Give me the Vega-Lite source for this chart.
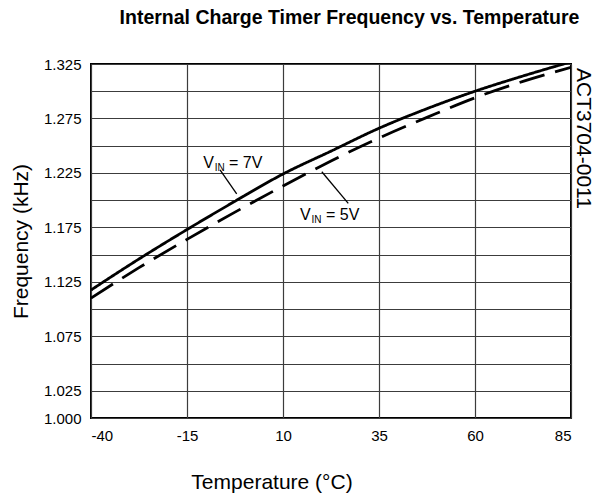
{
  "$schema": "https://vega.github.io/schema/vega-lite/v6.json",
  "width": 480,
  "height": 354,
  "autosize": {"type": "none"},
  "padding": {"left": 91, "top": 64, "right": 26, "bottom": 79},
  "background": "white",
  "config": {
    "font": "Liberation Sans",
    "view": {"stroke": "black", "strokeWidth": 2},
    "axis": {"labelFont": "Liberation Sans", "titleFont": "Liberation Sans", "labelColor": "black", "titleColor": "black", "titleFontWeight": "normal"}
  },
  "title": {
    "text": "Internal Charge Timer Frequency vs. Temperature",
    "fontSize": 19.5,
    "fontWeight": "bold",
    "font": "Liberation Sans",
    "color": "black",
    "anchor": "middle",
    "dx": 18.5,
    "offset": 29
  },
  "datasets": {
    "curves": [
      {"series": "7V", "temp": -40, "freq": 1.1175},
      {"series": "7V", "temp": -27.5, "freq": 1.146},
      {"series": "7V", "temp": -15, "freq": 1.173},
      {"series": "7V", "temp": -2.5, "freq": 1.199},
      {"series": "7V", "temp": 10, "freq": 1.224},
      {"series": "7V", "temp": 22.5, "freq": 1.245},
      {"series": "7V", "temp": 35, "freq": 1.266},
      {"series": "7V", "temp": 47.5, "freq": 1.284},
      {"series": "7V", "temp": 60, "freq": 1.300},
      {"series": "7V", "temp": 72.5, "freq": 1.314},
      {"series": "7V", "temp": 85, "freq": 1.327},
      {"series": "5V", "temp": -40, "freq": 1.110},
      {"series": "5V", "temp": -27.5, "freq": 1.138},
      {"series": "5V", "temp": -15, "freq": 1.164},
      {"series": "5V", "temp": -2.5, "freq": 1.189},
      {"series": "5V", "temp": 10, "freq": 1.213},
      {"series": "5V", "temp": 22.5, "freq": 1.236},
      {"series": "5V", "temp": 35, "freq": 1.257},
      {"series": "5V", "temp": 47.5, "freq": 1.276},
      {"series": "5V", "temp": 60, "freq": 1.294},
      {"series": "5V", "temp": 72.5, "freq": 1.309},
      {"series": "5V", "temp": 85, "freq": 1.322}
    ],
    "bigText": [
      {"temp": -10.8, "freq": 1.2295, "text": "V"},
      {"temp": -4.06, "freq": 1.2295, "text": "= 7V"},
      {"temp": 14.4, "freq": 1.1818, "text": "V"},
      {"temp": 21.2, "freq": 1.1818, "text": "= 5V"}
    ],
    "subText": [
      {"temp": -7.8, "freq": 1.2268, "text": "IN"},
      {"temp": 17.4, "freq": 1.1792, "text": "IN"}
    ],
    "leaders": [
      {"t1": -6.4, "f1": 1.2277, "t2": -2.06, "f2": 1.2057},
      {"t1": 20.1, "f1": 1.2261, "t2": 27.0, "f2": 1.1971}
    ],
    "sideText": [
      {"temp": 85, "freq": 1.325, "text": "ACT3704-0011"}
    ]
  },
  "layer": [
    {
      "data": {"name": "curves"},
      "mark": {"type": "line", "color": "black", "strokeWidth": 2.8, "interpolate": "monotone", "clip": true},
      "encoding": {
        "x": {
          "field": "temp", "type": "quantitative",
          "scale": {"domain": [-40, 85], "nice": false, "zero": false},
          "axis": {
            "values": [-40, -15, 10, 35, 60, 85],
            "tickCount": 10,
            "format": "d",
            "labelExpr": "replace(datum.label, '−', '-')",
            "title": "Temperature (°C)",
            "titleFontSize": 21,
            "titleX": 180.5,
            "titleY": 70,
            "titleAlign": "center",
            "titleBaseline": "alphabetic",
            "labelFontSize": 15,
            "labelPadding": 10,
            "ticks": false,
            "domain": false,
            "grid": true,
            "gridColor": "#3c3c3c",
            "gridWidth": 1.2,
            "gridOpacity": 1
          }
        },
        "y": {
          "field": "freq", "type": "quantitative",
          "scale": {"domain": [1.0, 1.325], "nice": false, "zero": false},
          "axis": {
            "values": [1.0, 1.025, 1.05, 1.075, 1.1, 1.125, 1.15, 1.175, 1.2, 1.225, 1.25, 1.275, 1.3, 1.325],
            "tickCount": 20,
            "format": ".3f",
            "labelExpr": "indexof(['1.000','1.025','1.075','1.125','1.175','1.225','1.275','1.325'], datum.label) >= 0 ? datum.label : ''",
            "labelOverlap": false,
            "title": "Frequency (kHz)",
            "titleFontSize": 21,
            "titlePadding": 12,
            "labelFontSize": 15,
            "labelPadding": 10,
            "ticks": false,
            "domain": false,
            "grid": true,
            "gridColor": "#3c3c3c",
            "gridWidth": 1.2,
            "gridOpacity": 1
          }
        },
        "detail": {"field": "series"},
        "strokeDash": {
          "field": "series", "type": "nominal",
          "scale": {"domain": ["7V", "5V"], "range": [[1, 0], [26, 11]]},
          "legend": null
        }
      }
    },
    {
      "data": {"name": "leaders"},
      "mark": {"type": "rule", "color": "black", "strokeWidth": 1.3},
      "encoding": {
        "x": {"field": "t1", "type": "quantitative"},
        "y": {"field": "f1", "type": "quantitative"},
        "x2": {"field": "t2"},
        "y2": {"field": "f2"}
      }
    },
    {
      "data": {"name": "bigText"},
      "mark": {"type": "text", "align": "left", "baseline": "alphabetic", "fontSize": 16, "font": "Liberation Sans", "color": "black"},
      "encoding": {
        "x": {"field": "temp", "type": "quantitative"},
        "y": {"field": "freq", "type": "quantitative"},
        "text": {"field": "text"}
      }
    },
    {
      "data": {"name": "subText"},
      "mark": {"type": "text", "align": "left", "baseline": "alphabetic", "fontSize": 10, "font": "Liberation Sans", "color": "black"},
      "encoding": {
        "x": {"field": "temp", "type": "quantitative"},
        "y": {"field": "freq", "type": "quantitative"},
        "text": {"field": "text"}
      }
    },
    {
      "data": {"name": "sideText"},
      "mark": {"type": "text", "align": "left", "baseline": "middle", "angle": 90, "fontSize": 21, "font": "Liberation Sans", "color": "black", "dx": 4, "dy": -11.5},
      "encoding": {
        "x": {"field": "temp", "type": "quantitative"},
        "y": {"field": "freq", "type": "quantitative"},
        "text": {"field": "text"}
      }
    }
  ]
}
